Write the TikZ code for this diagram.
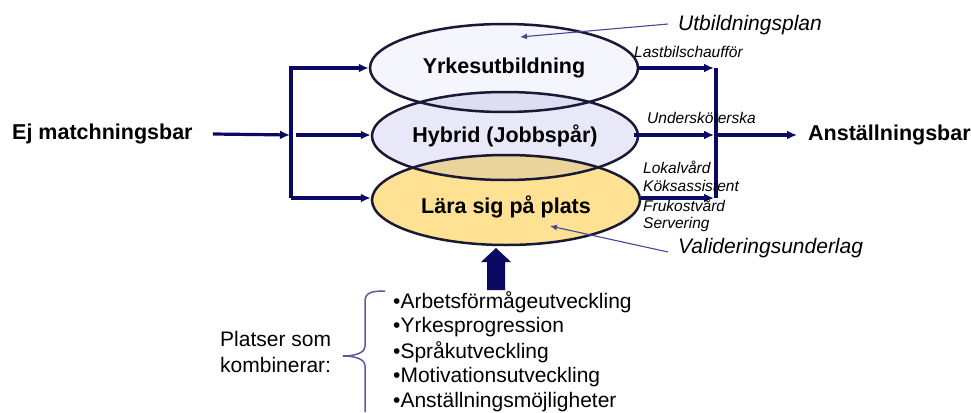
\documentclass[tikz,border=0pt]{standalone}
\usepackage{fontspec}
\setmainfont{Liberation Sans}
\usetikzlibrary{arrows.meta,shapes.geometric,calc}
\definecolor{navy}{RGB}{10,10,100}
\definecolor{edgec}{RGB}{25,25,55}
\definecolor{annc}{RGB}{70,70,150}
\definecolor{bracec}{RGB}{90,90,160}
\definecolor{eA}{RGB}{245,245,253}
\definecolor{eB}{RGB}{232,232,248}
\definecolor{eC}{RGB}{255,225,148}
\definecolor{oAB}{RGB}{222,222,243}
\definecolor{oBC}{RGB}{234,212,156}
\begin{document}
\begin{tikzpicture}[x=1pt,y=-1pt,
 conn/.style={draw=navy,line width=3.2pt,-{Latex[length=10pt,width=9pt]}},
 bar/.style={draw=navy,line width=3.2pt},
 ann/.style={draw=annc,line width=1.1pt,-{Latex[length=7pt,width=6pt]}},
 oval/.style={ellipse,draw=edgec,line width=2.5pt,minimum width=268pt,minimum height=88pt,inner sep=0pt,font=\fontsize{21.5}{25}\selectfont\bfseries},
 big/.style={font=\fontsize{21.5}{25}\selectfont\bfseries,inner sep=0pt},
 itl/.style={font=\fontsize{21}{25}\selectfont\itshape,inner sep=0pt,anchor=west},
 small/.style={font=\fontsize{15.5}{19}\selectfont\itshape,inner sep=0pt,anchor=west},
 listitem/.style={font=\fontsize{21}{25}\selectfont,inner sep=0pt,anchor=west}]

\useasboundingbox (0,0) rectangle (971,412);

\coordinate (cA) at (504,68);
\coordinate (cB) at (505,136);
\coordinate (cC) at (506,200);

% fills
\fill[eA] (cA) ellipse [x radius=134pt,y radius=44pt];
\fill[eB] (cB) ellipse [x radius=133pt,y radius=44pt];
\fill[eC] (cC) ellipse [x radius=134pt,y radius=45pt];
\begin{scope}
 \clip (cA) ellipse [x radius=134pt,y radius=44pt];
 \fill[oAB] (cB) ellipse [x radius=133pt,y radius=44pt];
\end{scope}
\begin{scope}
 \clip (cB) ellipse [x radius=133pt,y radius=44pt];
 \fill[oBC] (cC) ellipse [x radius=134pt,y radius=45pt];
\end{scope}

% ellipse outlines with text
\node[oval] (e1) at (cA) {Yrkesutbildning};
\node[oval,minimum width=266pt] (e2) at (cB) {Hybrid (Jobbspår)};
\node[oval,minimum height=90pt] (e3) at (cC) {};
\node[big] (t3) at ($(cC)+(0,7)$) {Lära sig på plats};

% left side
\node[big,anchor=west] (ej) at (12,134) {Ej matchningsbar};
\coordinate (jT) at (291,68);
\coordinate (jM) at (291,135);
\coordinate (jB) at (291,198);
\draw[conn] (jB) -- (jT) -- (jT -| e1.west);
\draw[conn] (jB) -- (jB -| e3.west);
\draw[conn] ($(jM)+(5,0)$) -- (jM -| e2.west);
\draw[conn,shorten >=1pt] ($(ej.east)+(20,0)$) -- (jM);

% right side
\node[big,anchor=west] (anst) at (808,135) {Anställningsbar};
\coordinate (kT) at (716,68);
\coordinate (kM) at (716,135);
\coordinate (kB) at (716,198);
\draw[bar] (kT) -- (kB);
\draw[conn,shorten >=2pt] (e1.east) -- (kT);
\draw[conn,shorten >=2pt] ($(e2.east)+(-5,-1)$) -- (kM);
\draw[conn,shorten >=2pt] (e3.east |- kB) -- (kB);
\draw[conn,shorten >=11pt] ($(kM)+(2,0)$) -- (anst.west);

% job labels
\node[small] (l1) at (634,52) {Lastbilschaufför};
\node[small] (l2) at (647,118) {Undersköterska};
\node[small] (l3) at (643,167) {Lokalvård};
\node[small] (l4) at (643,186) {Köksassistent};
\node[small] (l5) at (643,205) {Frukostvård};
\node[small] (l6) at (643,224) {Servering};

% annotations
\node[itl] (utb) at (678,25) {Utbildningsplan};
\node[itl] (val) at (678,248) {Valideringsunderlag};
\coordinate (utbT) at (520,37);
\coordinate (valT) at (550,226);
\draw[ann] ($(utb.west)+(-10,-1)$) -- (utbT);
\draw[ann] ($(val.west)+(-10,4)$) -- (valT);

% big up arrow
\fill[navy] (487,290) -- (487,262) -- (481,262) -- (496,248) -- (511,262) -- (505,262) -- (505,290) -- cycle;

% list
\node[listitem] (b1) at (393,302) {•Arbetsförmågeutveckling};
\node[listitem] (b2) at (393,327) {•Yrkesprogression};
\node[listitem] (b3) at (393,352) {•Språkutveckling};
\node[listitem] (b4) at (393,377) {•Motivationsutveckling};
\node[listitem] (b5) at (393,402) {•Anställningsmöjligheter};
\node[listitem,align=left,font=\fontsize{21}{26}\selectfont] (pl) at (220,352) {Platser som\\kombinerar:};

% brace
\draw[bracec,line width=1.5pt] (385,291) .. controls (370,291) and (365,293) .. (365,302) -- (365,346) .. controls (365,353) and (355,356) .. (343,356) .. controls (355,356) and (365,359) .. (365,366) -- (365,412);
\end{tikzpicture}
\end{document}
